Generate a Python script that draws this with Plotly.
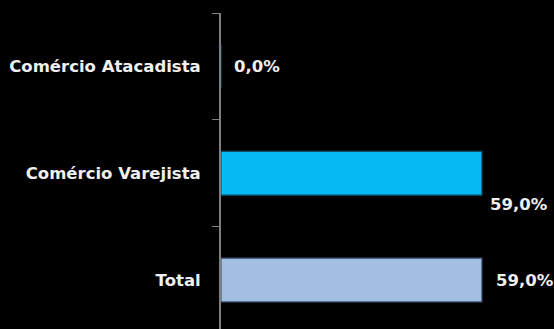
import plotly.graph_objects as go

# Data
categories = ["Total", "Comércio Varejista", "Comércio Atacadista"]
values = [59.0, 59.0, 0.0]
labels = ["59,0%", "59,0%", "0,0%"]
bar_colors = ["#A2BEE3", "#06B9F2", "#06B9F2"]
edge_colors = ["#3E5270", "#0B4E66", "#0B4E66"]

# label offsets (px) relative to the end of each bar
label_dx = [12, 6, 11]
label_dy = [0, -31, 0]

FONT = "DejaVu Sans"
FSIZE = 16.5

fig = go.Figure()
fig.add_trace(go.Bar(
    y=categories,
    x=values,
    orientation="h",
    width=0.41,
    marker=dict(color=bar_colors, line=dict(color=edge_colors, width=1.2)),
    hoverinfo="skip",
))

for cat, v, t, dx, dy in zip(categories, values, labels, label_dx, label_dy):
    fig.add_annotation(
        x=v, y=cat, text=t, showarrow=False,
        xanchor="left", yanchor="middle",
        xshift=dx, yshift=dy,
        font=dict(family=FONT, size=FSIZE, color="#F0F0F0", weight="bold"),
    )

fig.update_layout(
    width=554, height=329,
    margin=dict(l=221, r=0, t=13, b=0),
    paper_bgcolor="#000000",
    plot_bgcolor="#000000",
    showlegend=False,
    bargap=0.59,
)
fig.update_xaxes(
    range=[0, 75.3], visible=False, showgrid=False, zeroline=False,
)
fig.update_yaxes(
    type="category",
    categoryorder="array", categoryarray=categories,
    range=[-0.458, 2.5],
    showline=True, linecolor="#7F7F7F", linewidth=2,
    ticks="outside", ticklen=7, tickcolor="#7F7F7F", tickwidth=1,
    tickson="boundaries",
    ticklabelstandoff=15,
    showgrid=False, zeroline=False,
    tickfont=dict(family=FONT, size=FSIZE, color="#F0F0F0", weight="bold"),
)

fig.write_html("out.html")
